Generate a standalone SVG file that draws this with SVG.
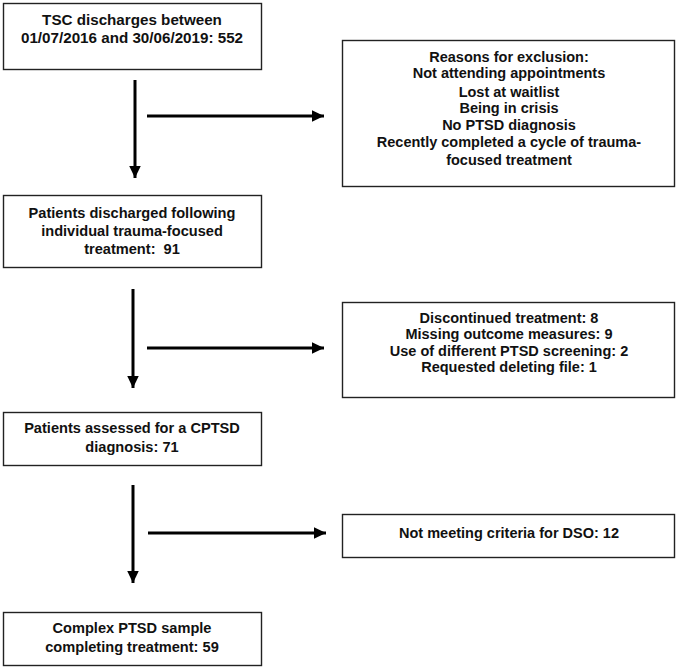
<svg xmlns="http://www.w3.org/2000/svg" width="678" height="669" viewBox="0 0 678 669">
<defs>
<marker id="ah" markerUnits="userSpaceOnUse" markerWidth="13" markerHeight="13" viewBox="0 0 13 13" refX="12.5" refY="6.5" orient="auto">
<path d="M0,0.5 L12.5,6.5 L0,12.5 Z" fill="#000"/>
</marker>
<style>
.box{fill:#fff;stroke:#222;stroke-width:1.4}
.t{font-family:"Liberation Sans",Arial,Helvetica,sans-serif;font-weight:bold;font-size:14.6px;fill:#111;text-anchor:middle}
.big{font-size:15.2px}
.r{font-size:14.5px}
.c{stroke:#000;stroke-width:3;fill:none;marker-end:url(#ah)}
</style>
</defs>
<rect width="678" height="669" fill="#fff"/>
<g id="n1">
<rect class="box" x="3.5" y="3.5" width="258" height="66"/>
<text class="t big" x="132" y="25">TSC discharges between</text>
<text class="t big" x="132" y="43">01/07/2016 and 30/06/2019: 552</text>
</g>
<g id="x1">
<rect class="box" x="342.5" y="40.5" width="332" height="146"/>
<text class="t r" x="509" y="62">Reasons for exclusion:</text>
<text class="t r" x="509" y="78">Not attending appointments</text>
<text class="t r" x="509" y="97">Lost at waitlist</text>
<text class="t r" x="509" y="113">Being in crisis</text>
<text class="t r" x="509" y="130">No PTSD diagnosis</text>
<text class="t r" x="509" y="147">Recently completed a cycle of trauma-</text>
<text class="t r" x="509" y="165">focused treatment</text>
</g>
<g id="n2">
<rect class="box" x="3.5" y="195.5" width="258" height="72"/>
<text class="t" x="132" y="218">Patients discharged following</text>
<text class="t" x="132" y="236">individual trauma-focused</text>
<text class="t" x="132" y="254">treatment:&#160; 91</text>
</g>
<g id="x2">
<rect class="box" x="342.5" y="302.5" width="332" height="95"/>
<text class="t r" x="509" y="323">Discontinued treatment: 8</text>
<text class="t r" x="509" y="339">Missing outcome measures: 9</text>
<text class="t r" x="509" y="356">Use of different PTSD screening: 2</text>
<text class="t r" x="509" y="372">Requested deleting file: 1</text>
</g>
<g id="n3">
<rect class="box" x="3.5" y="412.5" width="258" height="53"/>
<text class="t" x="132" y="433">Patients assessed for a CPTSD</text>
<text class="t" x="132" y="452">diagnosis: 71</text>
</g>
<g id="x3">
<rect class="box" x="342.5" y="514.5" width="332" height="43"/>
<text class="t r" x="509" y="538">Not meeting criteria for DSO: 12</text>
</g>
<g id="n4">
<rect class="box" x="3.5" y="612.5" width="258" height="53"/>
<text class="t" x="132" y="633">Complex PTSD sample</text>
<text class="t" x="132" y="652">completing treatment: 59</text>
</g>
<g id="connectors">
<line class="c" x1="135" y1="80" x2="135" y2="178"/>
<line class="c" x1="147" y1="116" x2="324" y2="116"/>
<line class="c" x1="133" y1="289" x2="133" y2="388"/>
<line class="c" x1="147" y1="348" x2="324" y2="348"/>
<line class="c" x1="133" y1="485" x2="133" y2="583"/>
<line class="c" x1="148" y1="533" x2="326" y2="533"/>
</g>
</svg>
